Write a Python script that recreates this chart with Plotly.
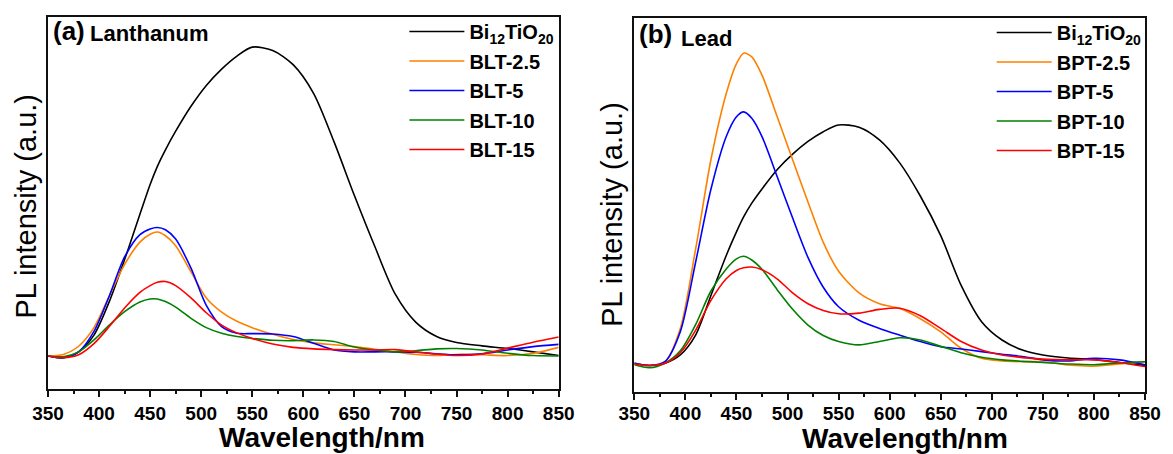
import plotly.graph_objects as go

# ---------------- data ----------------
wavelength = [350, 365, 380, 395, 410, 425, 440, 450, 457, 465, 475, 490, 505, 520, 535,
              550, 570, 590, 610, 630, 650, 670, 690, 710, 730, 750, 775, 800, 825, 850]

# (a) Lanthanum
la_names = ["Bi<sub>12</sub>TiO<sub>20</sub>", "BLT-2.5", "BLT-5", "BLT-10", "BLT-15"]
la_bto = [8.9, 8.4, 10.0, 14.5, 23.5, 34.8, 47.0, 55.0, 59.8, 64.3, 69.3, 76.0, 81.6, 86.0, 89.5,
          91.9, 91.0, 87.2, 79.5, 66.5, 52.0, 38.3, 25.5, 18.0, 14.2, 12.5, 11.6, 10.9, 10.0, 9.0]
la_25 = [8.9, 9.3, 11.5, 16.5, 25.0, 33.5, 39.5, 41.6, 42.2, 41.2, 38.5, 31.5, 24.5, 20.7, 18.2,
         16.5, 14.7, 13.3, 12.4, 11.9, 11.4, 10.7, 10.0, 9.3, 9.0, 9.3, 9.2, 9.0, 9.6, 11.2]
la_5 = [8.9, 8.4, 10.0, 15.5, 25.0, 35.5, 41.5, 43.0, 43.4, 42.8, 40.3, 32.5, 22.5, 16.8, 15.0,
        14.9, 14.8, 14.1, 12.3, 10.5, 10.0, 10.0, 10.0, 9.9, 9.5, 9.2, 9.5, 10.5, 11.4, 12.0]
la_10 = [8.9, 8.7, 10.0, 13.2, 17.2, 20.8, 23.4, 24.2, 24.2, 23.5, 22.0, 19.0, 16.5, 15.0, 14.1,
         13.6, 13.1, 13.0, 13.2, 12.8, 11.3, 10.5, 10.0, 10.3, 10.8, 10.9, 10.5, 9.6, 9.0, 8.9]
la_15 = [8.9, 8.4, 9.2, 12.2, 16.8, 21.8, 26.0, 27.8, 28.7, 28.9, 27.8, 24.5, 20.5, 17.2, 15.1,
         13.6, 12.1, 11.2, 10.8, 10.6, 10.5, 10.5, 10.6, 10.0, 9.4, 9.0, 9.4, 11.0, 12.6, 14.0]

# (b) Lead
pb_names = ["Bi<sub>12</sub>TiO<sub>20</sub>", "BPT-2.5", "BPT-5", "BPT-10", "BPT-15"]
pb_bto = [7.7, 7.1, 7.7, 9.9, 15.2, 25.8, 36.5, 42.8, 46.8, 50.5, 54.3, 59.5, 63.6, 67.0, 69.6,
          71.4, 70.8, 67.4, 61.2, 52.4, 41.8, 28.5, 18.8, 13.9, 11.2, 9.9, 9.1, 8.7, 7.9, 7.1]
pb_25 = [7.7, 7.1, 8.1, 17.0, 38.2, 62.1, 79.8, 87.8, 90.6, 89.6, 84.7, 73.5, 62.1, 50.8, 40.0,
         32.3, 26.5, 23.6, 22.3, 19.6, 16.1, 11.7, 9.0, 8.3, 8.1, 8.1, 7.2, 6.9, 7.5, 8.1]
pb_5 = [7.7, 7.1, 8.1, 16.1, 34.7, 54.2, 68.3, 73.6, 74.9, 73.2, 68.3, 57.5, 46.5, 36.0, 28.0,
        22.8, 19.2, 17.0, 15.2, 13.5, 12.1, 11.5, 10.8, 10.1, 9.5, 8.6, 8.3, 9.0, 8.6, 7.3]
pb_10 = [7.3, 6.5, 7.7, 11.0, 18.0, 27.0, 32.9, 35.6, 36.3, 35.3, 32.8, 27.3, 22.1, 17.9, 15.1,
         13.5, 12.6, 13.5, 14.5, 13.9, 12.2, 10.5, 9.3, 8.6, 8.2, 7.9, 7.5, 7.3, 7.8, 8.1]
pb_15 = [7.5, 7.1, 7.7, 10.5, 16.5, 24.5, 30.3, 32.5, 33.2, 33.4, 32.7, 30.2, 26.5, 23.6, 21.8,
         20.9, 21.1, 22.1, 22.4, 20.4, 17.0, 13.5, 11.2, 9.9, 9.2, 8.8, 8.6, 8.6, 7.9, 6.8]

x_ticks = [350, 400, 450, 500, 550, 600, 650, 700, 750, 800, 850]
colors = ["#000000", "#FF8000", "#0000FF", "#008000", "#FF0000"]

# ---------------- figure ----------------
W, H = 1173, 454
ML, MR, MT, MB = 48, 23, 12, 62
PW, PH = W - ML - MR, H - MT - MB


def px(x):
    return (x - ML) / PW


def py(y):
    return (H - MB - y) / PH


FONT = "Liberation Sans, Arial, sans-serif"
fig = go.Figure()

for name, ys, c, i in zip(la_names, [la_bto, la_25, la_5, la_10, la_15], colors, range(5)):
    fig.add_trace(go.Scatter(x=wavelength, y=ys, mode="lines", name=name,
                             line=dict(color=c, width=1.6, shape="spline", smoothing=0.8),
                             xaxis="x", yaxis="y", legend="legend", legendgroup=f"a{i}"))
for name, ys, c, i in zip(pb_names, [pb_bto, pb_25, pb_5, pb_10, pb_15], colors, range(5)):
    fig.add_trace(go.Scatter(x=wavelength, y=ys, mode="lines", name=name,
                             line=dict(color=c, width=1.6, shape="spline", smoothing=0.8),
                             xaxis="x2", yaxis="y2", legend="legend2", legendgroup=f"b{i}"))

xax = dict(range=[350, 850], tickvals=x_ticks, ticks="outside", ticklen=6, tickwidth=1.5,
           tickcolor="#111", minor=dict(dtick=25, ticks="outside", ticklen=3, tickwidth=1.5,
                                        tickcolor="#111"),
           showline=True, linewidth=1.5, linecolor="#111", mirror=True, showgrid=False,
           zeroline=False, tickfont=dict(family=FONT, size=19, color="#000", weight="bold"))
yax = dict(range=[0, 100], showticklabels=False, ticks="", showline=True, linewidth=1.5,
           linecolor="#111", mirror=True, showgrid=False, zeroline=False)

legfont = dict(family=FONT, size=20, color="#000", weight="bold")
fig.update_layout(
    width=W, height=H, margin=dict(l=ML, r=MR, t=MT, b=MB),
    paper_bgcolor="white", plot_bgcolor="white",
    xaxis=dict(domain=[0, px(561)], anchor="y", **xax),
    yaxis=dict(domain=[py(389), py(12)], anchor="x", **yax),
    xaxis2=dict(domain=[px(637), 1], anchor="y2", ticklabelstandoff=-3, **xax),
    yaxis2=dict(domain=[py(392), py(13)], anchor="x2", **yax),
    legend=dict(x=px(406), y=py(7), xanchor="left", yanchor="top", font=legfont,
                bgcolor="rgba(0,0,0,0)", itemwidth=55, traceorder="grouped",
                tracegroupgap=0.5),
    legend2=dict(x=px(996), y=py(8), xanchor="left", yanchor="top", font=legfont,
                 bgcolor="rgba(0,0,0,0)", itemwidth=55, traceorder="grouped",
                 tracegroupgap=0.5),
    showlegend=True,
)

ann = []
# panel labels
ann.append(dict(text="(a)", x=px(51), y=py(26), xanchor="left", yanchor="middle",
                font=dict(family=FONT, size=26, color="#000", weight="bold")))
ann.append(dict(text="Lanthanum", x=px(88), y=py(29), xanchor="left", yanchor="middle",
                font=dict(family=FONT, size=22, color="#000", weight="bold")))
ann.append(dict(text="(b)", x=px(640), y=py(29), xanchor="left", yanchor="middle",
                font=dict(family=FONT, size=26, color="#000", weight="bold")))
ann.append(dict(text="Lead", x=px(682), y=py(34), xanchor="left", yanchor="middle",
                font=dict(family=FONT, size=22, color="#000", weight="bold")))
# axis titles
ann.append(dict(text="Wavelength/nm", x=px(323), y=py(438), xanchor="center", yanchor="middle",
                font=dict(family=FONT, size=28, color="#000", weight="bold")))
ann.append(dict(text="Wavelength/nm", x=px(909), y=py(439), xanchor="center", yanchor="middle",
                font=dict(family=FONT, size=28, color="#000", weight="bold")))
ann.append(dict(text="PL intensity (a.u.)", x=px(26), y=py(204), xanchor="center",
                yanchor="middle", textangle=-90,
                font=dict(family=FONT, size=29, color="#000")))
ann.append(dict(text="PL intensity (a.u.)", x=px(615), y=py(212), xanchor="center",
                yanchor="middle", textangle=-90,
                font=dict(family=FONT, size=29, color="#000")))
for a in ann:
    a.update(xref="paper", yref="paper", showarrow=False)
fig.update_layout(annotations=ann)

fig.write_html("out.html", config={"displayModeBar": False},
               post_script="document.body.style.margin='0';document.body.style.overflow='hidden';")
